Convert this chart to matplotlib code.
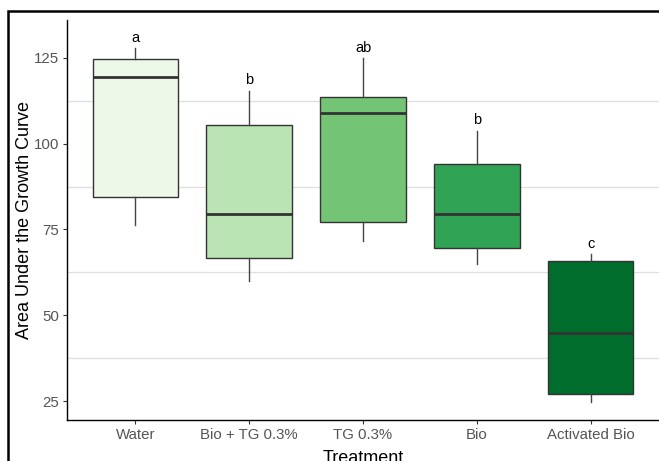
import matplotlib
matplotlib.use("Agg")
import matplotlib.pyplot as plt
from matplotlib.patches import Rectangle

# values
treatments = ["Water", "Bio + TG 0.3%", "TG 0.3%", "Bio", "Activated Bio"]
whisk_lo = [76.3, 60.1, 71.7, 65.0, 24.8]
q1 = [84.4, 66.6, 77.1, 69.7, 27.0]
median = [119.4, 79.4, 109.0, 79.6, 44.9]
q3 = [124.6, 105.3, 113.7, 94.0, 65.9]
whisk_hi = [127.9, 115.4, 124.9, 103.8, 67.9]
letters = ["a", "b", "ab", "b", "c"]
fills = ["#EDF8E9", "#BAE4B3", "#74C476", "#31A354", "#006D2C"]

plt.rcParams["font.family"] = ["Liberation Sans", "DejaVu Sans"]

W, H = 659, 461
fig = plt.figure(figsize=(W / 100, H / 100), dpi=100)
ax = fig.add_axes([67 / W, 1 - 420 / H, (W - 67) / W, 400 / H])

stats = [dict(label=t, whislo=lo, q1=a, med=m, q3=b, whishi=hi, fliers=[])
         for t, lo, a, m, b, hi in zip(treatments, whisk_lo, q1, median, q3, whisk_hi)]
pos = list(range(1, len(treatments) + 1))
res = ax.bxp(stats, positions=pos, widths=0.75, patch_artist=True, showcaps=False,
             boxprops=dict(edgecolor="#333333", linewidth=1.0),
             whiskerprops=dict(color="#444444", linewidth=1.0),
             medianprops=dict(color="#333333", linewidth=2.0))
for patch, c in zip(res["boxes"], fills):
    patch.set_facecolor(c)
for art in res["boxes"] + res["whiskers"] + res["medians"]:
    art.set_zorder(3)

for p, hi, lab in zip(pos, whisk_hi, letters):
    ax.text(p, hi + 3.0, lab, ha="center", va="center", fontsize=10.5, color="black", zorder=4)

ax.set_xlim(0.4, 5.6)
ax.set_ylim(19.5, 136)
ax.set_yticks([25, 50, 75, 100, 125])
ax.set_yticks([37.5, 62.5, 87.5, 112.5], minor=True)
ax.tick_params(axis="y", which="minor", length=0)
ax.grid(True, axis="y", which="minor", color="#DEDEDE", linewidth=0.9, zorder=0)
ax.grid(False, axis="y", which="major")
ax.set_axisbelow(True)
ax.set_xticks(pos)
ax.set_xticklabels(treatments)
ax.tick_params(axis="both", which="major", length=3, width=0.8, color="#333333",
               labelcolor="#555555", labelsize=10.8, pad=2.5)

for s in ["top", "right"]:
    ax.spines[s].set_visible(False)
for s in ["left", "bottom"]:
    ax.spines[s].set_color("black")
    ax.spines[s].set_linewidth(1.0)

ax.set_ylabel("Area Under the Growth Curve", fontsize=13, color="black")
ax.yaxis.set_label_coords(-0.058, 0.5)
ax.set_xlabel("Treatment", fontsize=13, color="black", labelpad=6)

# black frame of the screenshot (top and left edges visible)
fig.patches.append(Rectangle((8 / W, -0.05), 1.1, 1 - 11 / H + 0.05,
                             transform=fig.transFigure, fill=False,
                             edgecolor="black", linewidth=1.8))

fig.savefig("out.png", dpi=100)
